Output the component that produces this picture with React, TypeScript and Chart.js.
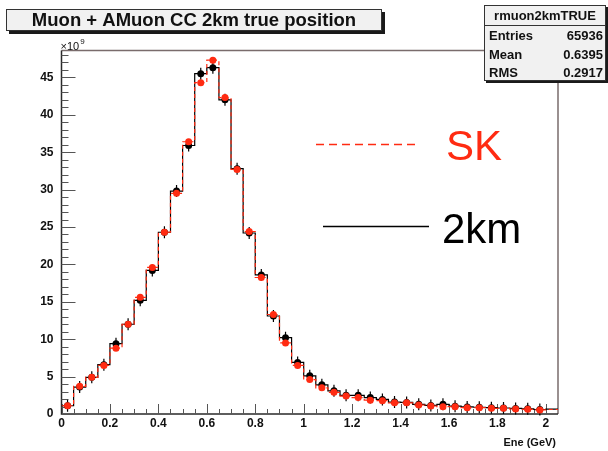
import { useEffect, useRef } from "react";
import { Chart, registerables } from "chart.js";

Chart.register(...registerables);

// Histogram binning (GeV)
const BIN_START = 0;
const BIN_WIDTH = 0.05;
const X_MAX = 2.05;
const Y_MAX = 48.6; // in units of 10^9

// Bin contents (x10^9), 2.0-2.05 is the last bin
const twoKmCounts = [
  1.1, 3.6, 4.9, 6.6, 9.4, 12.0, 15.2, 19.2, 24.3, 29.8,
  35.9, 45.5, 46.3, 42.0, 32.8, 24.2, 18.6, 13.1, 10.2, 6.9,
  5.1, 3.9, 3.1, 2.5, 2.5, 2.2, 1.95, 1.6, 1.55, 1.3,
  1.15, 1.3, 1.05, 0.95, 0.9, 0.85, 0.8, 0.75, 0.7, 0.6,
  0.65,
];
const skCounts = [
  1.1, 3.7, 4.9, 6.5, 8.8, 12.0, 15.6, 19.6, 24.3, 29.5,
  36.4, 44.3, 47.3, 42.3, 32.7, 24.4, 18.25, 13.3, 9.5, 6.5,
  4.6, 3.5, 2.9, 2.4, 2.2, 1.85, 1.78, 1.5, 1.5, 1.2,
  1.07, 0.98, 0.98, 0.85, 0.85, 0.76, 0.76, 0.67, 0.62, 0.54,
  0.6,
];

const X_TICK_VALUES = [0, 0.2, 0.4, 0.6, 0.8, 1, 1.2, 1.4, 1.6, 1.8, 2];
const X_TICK_LABELS = ["0", "0.2", "0.4", "0.6", "0.8", "1", "1.2", "1.4", "1.6", "1.8", "2"];
const Y_TICK_VALUES = [0, 5, 10, 15, 20, 25, 30, 35, 40, 45];
const Y_TICK_LABELS = ["0", "5", "10", "15", "20", "25", "30", "35", "40", "45"];
const X_MINOR_STEP = 0.05;
const Y_MINOR_STEP = 1;

const TITLE = "Muon + AMuon CC 2km true position";
const STATS_NAME = "rmuon2kmTRUE";
const STATS_LABELS = ["Entries", "Mean", "RMS"];
const STATS_VALUES = ["65936", "0.6395", "0.2917"];
const X_TITLE = "Ene (GeV)";
const LEGEND_SK = "SK";
const LEGEND_2KM = "2km";

const RED = "#ff2b12";
const FONT = '"Liberation Sans", Arial, Helvetica, sans-serif';

function stepPoints(counts: number[]) {
  const pts = counts.map((v, i) => ({ x: BIN_START + i * BIN_WIDTH, y: v }));
  pts.push({ x: BIN_START + counts.length * BIN_WIDTH, y: counts[counts.length - 1] });
  return pts;
}

function markerPoints(counts: number[]) {
  return counts
    .map((v, i) => ({ x: BIN_START + (i + 0.5) * BIN_WIDTH, y: v }))
    .filter((p) => p.x < 2);
}

const rootStyle = {
  id: "rootStyle",
  beforeDatasetsDraw(chart: any) {
    const { ctx, chartArea } = chart;
    const { left, right, top, bottom } = chartArea;
    const xs = chart.scales.x;
    const ys = chart.scales.y;
    ctx.save();
    // frame top / right
    ctx.strokeStyle = "#7a6c6c";
    ctx.lineWidth = 1.5;
    ctx.beginPath();
    ctx.moveTo(left, top);
    ctx.lineTo(right, top);
    ctx.lineTo(right, bottom);
    ctx.stroke();
    // axes
    ctx.strokeStyle = "#2a2a2a";
    ctx.beginPath();
    ctx.moveTo(left, top);
    ctx.lineTo(left, bottom);
    ctx.lineTo(right, bottom);
    ctx.stroke();
    // ticks
    ctx.lineWidth = 1;
    ctx.strokeStyle = "#555";
    ctx.beginPath();
    for (let k = 0; k * Y_MINOR_STEP <= Y_MAX; k++) {
      const v = k * Y_MINOR_STEP;
      const y = Math.round(ys.getPixelForValue(v)) + 0.5;
      const len = k % 5 === 0 ? 14 : 7;
      ctx.moveTo(left, y);
      ctx.lineTo(left + len, y);
    }
    for (let k = 0; k * X_MINOR_STEP <= 2.0001; k++) {
      const v = k * X_MINOR_STEP;
      const x = Math.round(xs.getPixelForValue(v)) + 0.5;
      const len = k % 4 === 0 ? 10 : 5;
      ctx.moveTo(x, bottom);
      ctx.lineTo(x, bottom - len);
    }
    ctx.stroke();
    ctx.restore();
  },
  beforeDatasetDraw(chart: any, args: any) {
    // vertical error bars under the 2km markers
    if (args.index !== 1) return;
    const { ctx } = chart;
    ctx.save();
    ctx.strokeStyle = "#000";
    ctx.lineWidth = 1.2;
    ctx.beginPath();
    args.meta.data.forEach((el: any) => {
      ctx.moveTo(el.x, el.y - 6);
      ctx.lineTo(el.x, el.y + 6);
    });
    ctx.stroke();
    ctx.restore();
  },
  afterDraw(chart: any) {
    const { ctx, chartArea } = chart;
    const { left, right, top, bottom } = chartArea;
    const xs = chart.scales.x;
    const ys = chart.scales.y;
    ctx.save();

    // axis labels
    ctx.fillStyle = "#111";
    ctx.font = `bold 12px ${FONT}`;
    ctx.textAlign = "right";
    ctx.textBaseline = "middle";
    Y_TICK_VALUES.forEach((v, i) => {
      ctx.fillText(Y_TICK_LABELS[i], left - 8, ys.getPixelForValue(v));
    });
    ctx.textAlign = "center";
    ctx.textBaseline = "top";
    X_TICK_VALUES.forEach((v, i) => {
      ctx.fillText(X_TICK_LABELS[i], xs.getPixelForValue(v), bottom + 4);
    });

    // exponent
    ctx.textAlign = "left";
    ctx.textBaseline = "alphabetic";
    ctx.font = `11px ${FONT}`;
    ctx.fillText("×10", left - 1, top - 1);
    const w = ctx.measureText("×10").width;
    ctx.font = `8px ${FONT}`;
    ctx.fillText("9", left - 1 + w + 1, top - 7);

    // x axis title
    ctx.font = `bold 11px ${FONT}`;
    ctx.textAlign = "right";
    ctx.fillText(X_TITLE, right - 2, bottom + 32);

    // title box
    ctx.fillStyle = "#1a1a1a";
    ctx.fillRect(9, 12, 376, 22);
    ctx.fillStyle = "#f1f1f1";
    ctx.fillRect(6, 9, 376, 22);
    ctx.strokeStyle = "#333";
    ctx.lineWidth = 1;
    ctx.strokeRect(6.5, 9.5, 375, 21);
    ctx.fillStyle = "#111";
    ctx.font = `bold 18.5px ${FONT}`;
    ctx.textAlign = "center";
    ctx.textBaseline = "middle";
    ctx.fillText(TITLE, 194, 21);

    // statistics box
    const bx = 484, by = 5, bw = 122, bh = 76;
    ctx.fillStyle = "#1a1a1a";
    ctx.fillRect(bx + 2, by + 2, bw, bh);
    ctx.fillStyle = "#f1f1f1";
    ctx.fillRect(bx, by, bw, bh);
    ctx.strokeStyle = "#333";
    ctx.strokeRect(bx + 0.5, by + 0.5, bw - 1, bh - 1);
    ctx.beginPath();
    ctx.moveTo(bx, 25.5);
    ctx.lineTo(bx + bw, 25.5);
    ctx.stroke();
    ctx.fillStyle = "#111";
    ctx.font = `bold 13px ${FONT}`;
    ctx.textAlign = "center";
    ctx.fillText(STATS_NAME, bx + bw / 2, 16);
    const rowY = [36, 55, 73.5];
    STATS_LABELS.forEach((lab, i) => {
      ctx.textAlign = "left";
      ctx.fillText(lab, bx + 5, rowY[i]);
      ctx.textAlign = "right";
      ctx.fillText(STATS_VALUES[i], bx + bw - 3, rowY[i]);
    });

    // legend
    ctx.lineWidth = 1.5;
    ctx.strokeStyle = RED;
    ctx.setLineDash([8, 5]);
    ctx.beginPath();
    ctx.moveTo(316, 144.5);
    ctx.lineTo(418, 144.5);
    ctx.stroke();
    ctx.setLineDash([]);
    ctx.strokeStyle = "#000";
    ctx.beginPath();
    ctx.moveTo(323, 226.5);
    ctx.lineTo(429, 226.5);
    ctx.stroke();
    ctx.font = `42px ${FONT}`;
    ctx.textAlign = "left";
    ctx.textBaseline = "alphabetic";
    ctx.fillStyle = RED;
    ctx.fillText(LEGEND_SK, 446, 160);
    ctx.fillStyle = "#000";
    ctx.fillText(LEGEND_2KM, 442, 242.5);

    ctx.restore();
  },
};

export default function App() {
  const canvasRef = useRef<HTMLCanvasElement | null>(null);

  useEffect(() => {
    const canvas = canvasRef.current;
    if (!canvas) return;
    const chart = new Chart(canvas, {
      type: "scatter",
      data: {
        datasets: [
          {
            label: LEGEND_2KM,
            data: stepPoints(twoKmCounts),
            showLine: true,
            stepped: "before",
            borderColor: "#000",
            borderWidth: 1.2,
            pointRadius: 0,
            order: 3,
          },
          {
            label: LEGEND_2KM + " markers",
            data: markerPoints(twoKmCounts),
            pointRadius: 3.5,
            pointBackgroundColor: "#000",
            pointBorderWidth: 0,
            order: 2,
          },
          {
            label: LEGEND_SK,
            data: stepPoints(skCounts),
            showLine: true,
            stepped: "before",
            borderColor: RED,
            borderDash: [4, 3],
            borderWidth: 1.2,
            pointRadius: 0,
            order: 1,
          },
          {
            label: LEGEND_SK + " markers",
            data: markerPoints(skCounts),
            pointRadius: 3.5,
            pointBackgroundColor: RED,
            pointBorderWidth: 0,
            order: 0,
          },
        ],
      } as any,
      options: {
        animation: false,
        responsive: false,
        devicePixelRatio: 1,
        layout: { padding: { left: 61.5, top: 50.5, right: 50, bottom: 37 } },
        scales: {
          x: { type: "linear", min: 0, max: X_MAX, display: false },
          y: { type: "linear", min: 0, max: Y_MAX, display: false },
        },
        plugins: {
          legend: { display: false },
          tooltip: { enabled: false },
        },
      },
      plugins: [rootStyle],
    });
    return () => chart.destroy();
  }, []);

  return (
    <div style={{ position: "fixed", left: 0, top: 0, width: 608, height: 451, background: "#fff" }}>
      <canvas ref={canvasRef} width={608} height={451} style={{ width: 608, height: 451, display: "block" }} />
    </div>
  );
}
